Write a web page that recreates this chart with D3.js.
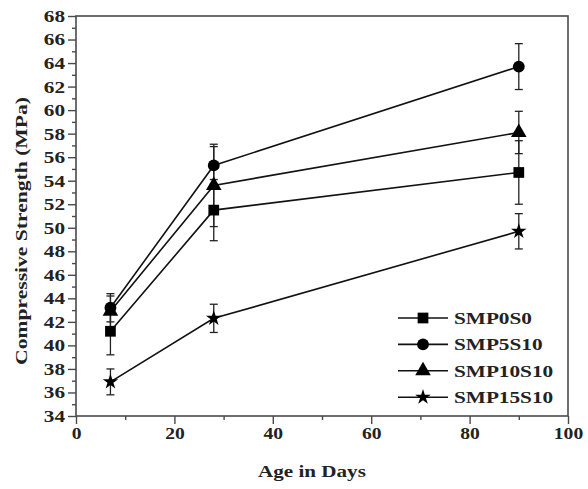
<!DOCTYPE html>
<html>
<head>
<meta charset="utf-8">
<script src="https://cdn.jsdelivr.net/npm/d3@7"></script>
<style>
  body { margin: 0; background: #fff; }
  svg text { font-family: "Liberation Serif", "Times New Roman", Times, serif; font-weight: bold; fill: #222; }
</style>
</head>
<body>
<div id="chart"></div>
<script>
// data
const days = [7, 28, 90];
const seriesNames = ["SMP0S0", "SMP5S10", "SMP10S10", "SMP15S10"];
const smp0s0 = [41.2, 51.5, 54.7];
const smp5s10 = [43.2, 55.3, 63.7];
const smp10s10 = [42.9, 53.6, 58.1];
const smp15s10 = [36.9, 42.3, 49.7];
const err0 = [2.0, 2.6, 2.7];
const err5 = [1.2, 1.6, 1.95];
const err10 = [1.3, 3.5, 1.8];
const err15 = [1.1, 1.2, 1.5];
const yTicks = d3.range(34, 69, 2);
const xTicks = d3.range(0, 101, 20);

const margin = {top: 16, right: 20, bottom: 73, left: 76};
const width = 588 - margin.left - margin.right;
const height = 489 - margin.top - margin.bottom;

const svg = d3.select("#chart").append("svg")
    .attr("width", 588).attr("height", 489)
  .append("g")
    .attr("transform", `translate(${margin.left},${margin.top})`);

const x = d3.scaleLinear().domain([0, 100]).range([0, width]);
const y = d3.scaleLinear().domain([34, 68]).range([height, 0]);

const symbols = [d3.symbolSquare, d3.symbolCircle, d3.symbolTriangle, d3.symbolStar];
const symSize = [115, 110, 105, 75];

const series = seriesNames.map((name, i) => ({
  name,
  symbol: symbols[i],
  size: symSize[i],
  values: [smp0s0, smp5s10, smp10s10, smp15s10][i].map((v, j) => ({
    day: days[j], v, e: [err0, err5, err10, err15][i][j]
  }))
}));

// the text in the figure is wider than Times, so stretch it a bit
function stretch(sel, k) {
  sel.each(function() {
    const w = this.getComputedTextLength();
    if (w > 0) d3.select(this).attr("textLength", w * k).attr("lengthAdjust", "spacingAndGlyphs");
  });
}

const axisColor = "#4a4a4a";

// axes: major + minor ticks
const yAx = svg.append("g")
    .call(d3.axisLeft(y).tickValues(yTicks).tickSize(8).tickPadding(3));
svg.append("g")
    .call(d3.axisLeft(y).tickValues(d3.range(35, 68, 2)).tickSize(4).tickFormat(""));
const xAx = svg.append("g")
    .attr("transform", `translate(0,${height})`)
    .call(d3.axisBottom(x).tickValues(xTicks).tickSize(8).tickPadding(3));
svg.append("g")
    .attr("transform", `translate(0,${height})`)
    .call(d3.axisBottom(x).tickValues(d3.range(10, 100, 20)).tickSize(4).tickFormat(""));

svg.selectAll(".domain").remove();
svg.selectAll(".tick line").attr("stroke", axisColor).attr("stroke-width", 1.4);
svg.selectAll("g").attr("font-family", null);
yAx.selectAll("text").style("font-size", "17px").call(stretch, 1.25);
xAx.selectAll("text").style("font-size", "17px").call(stretch, 1.15);

// frame
svg.append("rect")
    .attr("width", width).attr("height", height)
    .attr("fill", "none").attr("stroke", axisColor).attr("stroke-width", 1.6);

// axis titles
svg.append("text")
    .attr("x", width / 2 - 10).attr("y", height + 61)
    .attr("text-anchor", "middle").style("font-size", "17px")
    .text("Age in Days").call(stretch, 1.24);

svg.append("text")
    .attr("transform", "rotate(-90)")
    .attr("x", -(231 - margin.top)).attr("y", -margin.left + 27)
    .attr("text-anchor", "middle").style("font-size", "17px")
    .text("Compressive Strength (MPa)").call(stretch, 1.27);

// lines
const line = d3.line().x(d => x(d.day)).y(d => y(d.v));
svg.selectAll(".series-line")
  .data(series)
  .enter().append("path")
    .attr("d", d => line(d.values))
    .attr("fill", "none").attr("stroke", "#111").attr("stroke-width", 1.6);

// error bars
const pts = series.flatMap(s => s.values.map(p => Object.assign({s}, p)));
const cap = 4;
const eb = svg.selectAll(".err").data(pts).enter().append("g")
    .attr("stroke", "#222").attr("stroke-width", 1.3);
eb.append("line")
    .attr("x1", d => x(d.day)).attr("x2", d => x(d.day))
    .attr("y1", d => y(d.v + d.e)).attr("y2", d => y(d.v - d.e));
eb.append("line")
    .attr("x1", d => x(d.day) - cap).attr("x2", d => x(d.day) + cap)
    .attr("y1", d => y(d.v + d.e)).attr("y2", d => y(d.v + d.e));
eb.append("line")
    .attr("x1", d => x(d.day) - cap).attr("x2", d => x(d.day) + cap)
    .attr("y1", d => y(d.v - d.e)).attr("y2", d => y(d.v - d.e));

// markers
svg.selectAll(".pt").data(pts).enter().append("path")
    .attr("transform", d => `translate(${x(d.day)},${y(d.v)})`)
    .attr("d", d => d3.symbol().type(d.s.symbol).size(d.s.size)())
    .attr("fill", "#000");

// legend
const legend = svg.append("g").attr("transform", `translate(${398 - margin.left},${318 - margin.top})`);
const rows = legend.selectAll(".row").data(series).enter().append("g")
    .attr("transform", (d, i) => `translate(0,${i * 26.4})`);
rows.append("line")
    .attr("x1", 0).attr("x2", 50).attr("y1", 0).attr("y2", 0)
    .attr("stroke", "#111").attr("stroke-width", 1.6);
rows.append("path")
    .attr("transform", "translate(25,0)")
    .attr("d", d => d3.symbol().type(d.symbol).size(d.size)())
    .attr("fill", "#000");
rows.append("text")
    .attr("x", 56).attr("y", 6)
    .style("font-size", "17px")
    .text(d => d.name).call(stretch, 1.25);
</script>
</body>
</html>
